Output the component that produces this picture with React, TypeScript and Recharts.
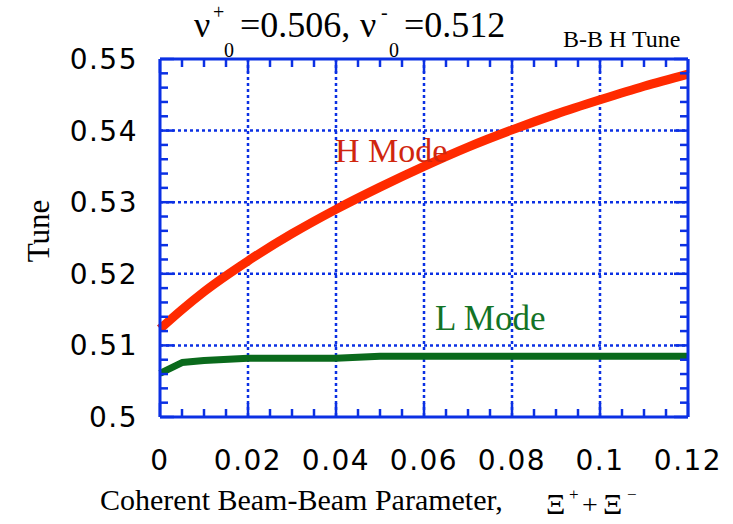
import React from "react";
import { LineChart, Line, XAxis, YAxis, CartesianGrid } from "recharts";

// coherent beam-beam parameter (x) and the two tunes
const xValues = [0, 0.005, 0.01, 0.02, 0.03, 0.04, 0.05, 0.06, 0.07, 0.08, 0.09, 0.1, 0.11, 0.12];
const hMode = [0.5123, 0.515, 0.5175, 0.5218, 0.5256, 0.529, 0.5321, 0.535, 0.5377, 0.5401, 0.5423, 0.5443, 0.5462, 0.5479];
const lMode = [0.5061, 0.5076, 0.5079, 0.5082, 0.5082, 0.5082, 0.5085, 0.5085, 0.5085, 0.5085, 0.5085, 0.5085, 0.5085, 0.5085];

const xTicks = [
  0, 0.005, 0.01, 0.015, 0.02, 0.025, 0.03, 0.035, 0.04, 0.045, 0.05, 0.055, 0.06,
  0.065, 0.07, 0.075, 0.08, 0.085, 0.09, 0.095, 0.1, 0.105, 0.11, 0.115, 0.12,
];
const yTicks = [
  0.5, 0.502, 0.504, 0.506, 0.508, 0.51, 0.512, 0.514, 0.516, 0.518, 0.52, 0.522, 0.524,
  0.526, 0.528, 0.53, 0.532, 0.534, 0.536, 0.538, 0.54, 0.542, 0.544, 0.546, 0.548, 0.55,
];
const xGrid = [0.02, 0.04, 0.06, 0.08, 0.1];
const yGrid = [0.51, 0.52, 0.53, 0.54];

const data = xValues.map((x, i) => ({ x, h: hMode[i], l: lMode[i] }));

const BLUE = "#0b30e4";
const SERIF = "'Liberation Serif', 'Times New Roman', serif";
const SANS = "'DejaVu Sans', sans-serif";

const fmt = (v: number) => String(Math.round(v * 1000) / 1000);

function XTick(props: any) {
  const { x, y, payload, index, side } = props;
  const major = index % 4 === 0;
  const len = major ? 14 : 8;
  const dir = side === "bottom" ? -1 : 1;
  return (
    <g>
      <line x1={x} y1={y} x2={x} y2={y + dir * len} stroke={BLUE} strokeWidth={2.5} />
      {side === "bottom" && major && (
        <text x={x} y={y + 53} textAnchor="middle" fontFamily={SANS} fontSize={28} letterSpacing={1.5} fill="#000">
          {fmt(payload.value)}
        </text>
      )}
    </g>
  );
}

function YTick(props: any) {
  const { x, y, payload, index, side } = props;
  const major = index % 5 === 0;
  const len = major ? 14 : 8;
  const dir = side === "left" ? 1 : -1;
  return (
    <g>
      <line x1={x} y1={y} x2={x + dir * len} y2={y} stroke={BLUE} strokeWidth={2.5} />
      {side === "left" && major && (
        <text x={x - 22} y={y + 10} textAnchor="end" fontFamily={SANS} fontSize={28} letterSpacing={1.5} fill="#000">
          {fmt(payload.value)}
        </text>
      )}
    </g>
  );
}

export default function App() {
  return (
    <div style={{ position: "absolute", left: 0, top: 0, width: 733, height: 524, background: "#fff" }}>
      <LineChart width={733} height={524} data={data} margin={{ top: 58, right: 44, bottom: 0, left: 0 }}>
        <CartesianGrid
          stroke={BLUE}
          strokeWidth={2.5}
          strokeDasharray="3 3"
          verticalValues={xGrid}
          horizontalValues={yGrid}
        />
        <XAxis
          dataKey="x"
          type="number"
          domain={[0, 0.12]}
          ticks={xTicks}
          interval={0}
          height={107}
          tickSize={0}
          tickMargin={0}
          tickLine={false}
          axisLine={{ stroke: BLUE, strokeWidth: 3 }}
          tick={(p: any) => <XTick {...p} side="bottom" />}
        />
        <XAxis
          xAxisId="top"
          orientation="top"
          dataKey="x"
          type="number"
          domain={[0, 0.12]}
          allowDataOverflow
          ticks={xTicks}
          interval={0}
          height={1}
          tickSize={0}
          tickMargin={0}
          tickLine={false}
          axisLine={{ stroke: BLUE, strokeWidth: 3 }}
          tick={(p: any) => <XTick {...p} side="top" />}
        />
        <YAxis
          type="number"
          domain={[0.5, 0.55]}
          ticks={yTicks}
          interval={0}
          width={160}
          tickSize={0}
          tickMargin={0}
          tickLine={false}
          axisLine={{ stroke: BLUE, strokeWidth: 3 }}
          tick={(p: any) => <YTick {...p} side="left" />}
        />
        <YAxis
          yAxisId="right"
          orientation="right"
          type="number"
          domain={[0.5, 0.55]}
          allowDataOverflow
          ticks={yTicks}
          interval={0}
          width={1}
          tickSize={0}
          tickMargin={0}
          tickLine={false}
          axisLine={{ stroke: BLUE, strokeWidth: 3 }}
          tick={(p: any) => <YTick {...p} side="right" />}
        />
        <Line
          type="monotone"
          dataKey="h"
          stroke="#ff2a00"
          strokeWidth={9}
          dot={false}
          isAnimationActive={false}
        />
        <Line
          type="linear"
          dataKey="l"
          stroke="#0a6a1c"
          strokeWidth={7}
          strokeLinejoin="round"
          dot={false}
          isAnimationActive={false}
        />
      </LineChart>
      <svg
        width={733}
        height={524}
        style={{ position: "absolute", left: 0, top: 0, pointerEvents: "none" }}
        fontFamily={SERIF}
      >
        {/* title */}
        <text x={194} y={37} fontSize={36}>ν</text>
        <text x={213} y={19} fontSize={20}>+</text>
        <text x={224} y={57} fontSize={20}>0</text>
        <text x={240} y={37} fontSize={36}>=0.506,</text>
        <text x={360} y={37} fontSize={36}>ν</text>
        <text x={381} y={19} fontSize={20}>-</text>
        <text x={389} y={57} fontSize={20}>0</text>
        <text x={404} y={37} fontSize={36}>=0.512</text>
        <text x={563} y={47} fontSize={24}>B-B H Tune</text>

        {/* series labels */}
        <text x={335} y={162} fontSize={34} fill="#d0260e">H Mode</text>
        <text x={435} y={330} fontSize={35} fill="#137326">L Mode</text>

        {/* axis titles */}
        <text x={49} y={231} fontSize={31} textAnchor="middle" transform="rotate(-90 49 231)">Tune</text>
        <text x={100} y={510} fontSize={30}>Coherent Beam-Beam Parameter,</text>
        <text x={546} y={514} fontSize={30}>Ξ</text>
        <text x={569} y={500} fontSize={17}>+</text>
        <text x={582} y={514} fontSize={28}>+</text>
        <text x={603} y={514} fontSize={30}>Ξ</text>
        <text x={627} y={500} fontSize={17}>−</text>
      </svg>
    </div>
  );
}
